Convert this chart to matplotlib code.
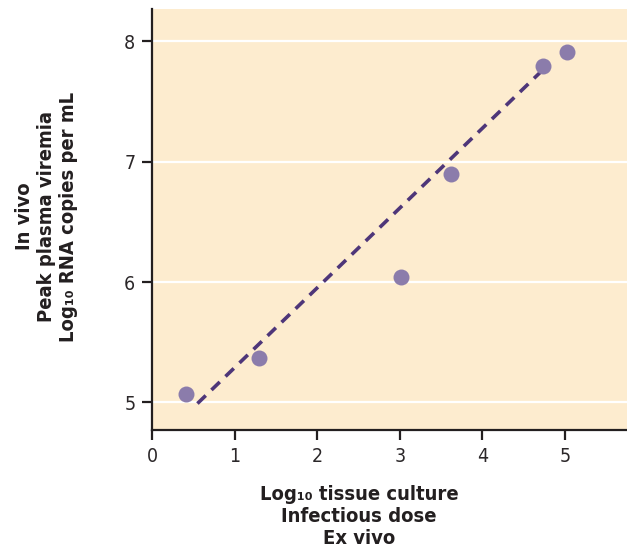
import matplotlib
matplotlib.use("Agg")
import matplotlib.pyplot as plt

# Tissue-culture infectious dose (ex vivo) vs peak plasma viremia (in vivo)
dose_log10 = [0.41, 1.30, 3.01, 3.62, 4.73, 5.02]
viremia_log10 = [5.07, 5.37, 6.04, 6.90, 7.80, 7.91]

# Regression line endpoints
fit_x = [0.55, 4.74]
fit_y = [4.99, 7.77]

x_ticks = [0, 1, 2, 3, 4, 5]
y_ticks = [5, 6, 7, 8]

plt.rcParams["font.family"] = ["DejaVu Sans"]
plt.rcParams["font.stretch"] = "condensed"

fig = plt.figure(figsize=(6.27, 5.51), dpi=100)
ax = fig.add_axes([152 / 627, 121 / 551, 475 / 627, 421 / 551])
ax.set_facecolor("#fdeccf")

ax.set_xlim(0, 5.75)
ax.set_ylim(4.77, 8.27)
ax.set_xticks(x_ticks)
ax.set_yticks(y_ticks)
ax.set_xticklabels([str(t) for t in x_ticks])
ax.set_yticklabels([str(t) for t in y_ticks])

for y in y_ticks:
    ax.axhline(y, color="white", lw=1.6, zorder=1)

ax.plot(fit_x, fit_y, color="#4e3679", lw=2.6, dashes=(3.2, 2.2), zorder=2)
ax.plot(dose_log10, viremia_log10, "o", ms=11.5, color="#8b7cab", mec="none", zorder=3)

for side in ("top", "right"):
    ax.spines[side].set_visible(False)
for side in ("left", "bottom"):
    ax.spines[side].set_color("#231f20")
    ax.spines[side].set_linewidth(1.6)

ax.tick_params(axis="both", direction="out", length=7, width=1.6, color="#231f20",
               labelsize=14, labelcolor="#2b2729", pad=5)
for lbl in ax.get_xticklabels() + ax.get_yticklabels():
    lbl.set_fontstretch("condensed")

label_kw = dict(fontsize=14.5, fontweight="bold", fontstretch="condensed",
                color="#231f20", linespacing=1.2, ma="center")

fig.text(0.024, 0.607, "In vivo\nPeak plasma viremia\nLog\u2081\u2080 RNA copies per mL",
         rotation=90, ha="left", va="center", **label_kw)
fig.text(359 / 627, 0.063, "Log\u2081\u2080 tissue culture\nInfectious dose\nEx vivo",
         ha="center", va="center", **label_kw)

fig.savefig("out.png", dpi=100)
